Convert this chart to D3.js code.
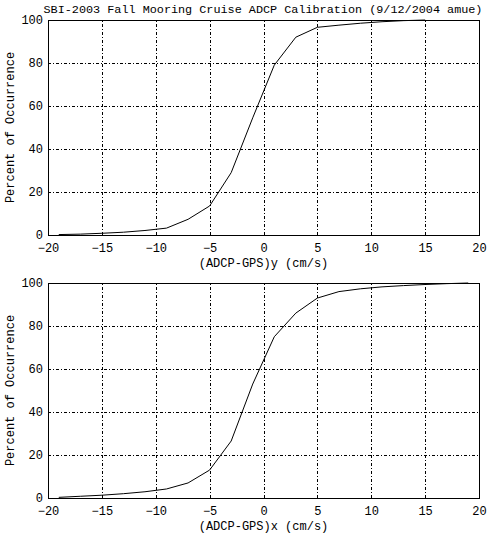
<!DOCTYPE html>
<html>
<head>
<meta charset="utf-8">
<script src="https://cdn.jsdelivr.net/npm/d3@7"></script>
<style>
  body { margin: 0; background: white; }
  text { font-family: "Liberation Mono", "DejaVu Sans Mono", monospace; fill: black; }
</style>
</head>
<body>
<div id="chart"></div>
<script>
// bin centres (cm/s) and cumulative percent of occurrence
let binsY = [-19, -17, -15, -13, -11, -9, -7, -5, -3, -1, 1, 3, 5, 7, 9, 11, 13, 15];
let cumY = [0.2, 0.4, 0.8, 1.3, 2.1, 3.2, 7.3, 13.5, 29, 54.5, 79, 92, 96.6, 97.6, 98.5, 99.2, 99.7, 100];

let binsX = [-19, -17, -15, -13, -11, -9, -7, -5, -3, -1, 1, 3, 5, 7, 9, 11, 13, 15, 17, 19];
let cumX = [0.3, 0.8, 1.3, 2.0, 2.9, 4.2, 7.0, 13, 26.5, 53, 75, 86, 93, 96, 97.3, 98.2, 98.8, 99.3, 99.7, 100];

let xTicks = [-20, -15, -10, -5, 0, 5, 10, 15, 20];
let yTicks = [0, 20, 40, 60, 80, 100];

let title = "SBI-2003 Fall Mooring Cruise ADCP Calibration (9/12/2004 amue)";
let yLabel = "Percent of Occurrence";

var W = 488, H = 536;
var left = 48, right = 479;
var width = right - left, height = 215;

var svg = d3.select("#chart")
  .append("svg")
    .attr("width", W)
    .attr("height", H);

svg.append("text")
  .attr("x", 263)
  .attr("y", 13)
  .attr("text-anchor", "middle")
  .style("font-size", "11.8px")
  .text(title);

var x = d3.scaleLinear().domain([-20, 20]).range([0, width]);
var y = d3.scaleLinear().domain([0, 100]).range([height, 0]);

function panel(top, bins, vals, xlab) {
  var g = svg.append("g")
    .attr("transform", "translate(" + left + "," + top + ")");

  // grid
  g.append("g")
    .attr("class", "grid")
    .attr("transform", "translate(0," + height + ")")
    .call(d3.axisBottom(x).tickValues(xTicks.slice(1, -1)).tickSize(-height).tickFormat(""));
  g.append("g")
    .attr("class", "grid")
    .call(d3.axisLeft(y).tickValues(yTicks.slice(1, -1)).tickSize(-width).tickFormat(""));
  g.selectAll(".grid .domain").remove();
  g.selectAll(".grid line")
    .attr("stroke", "black")
    .attr("stroke-dasharray", "3,2,1,2")
    .attr("shape-rendering", "crispEdges");

  // tick labels
  var xa = g.append("g")
    .attr("transform", "translate(0," + height + ")")
    .call(d3.axisBottom(x).tickValues(xTicks).tickSize(0).tickPadding(8.5).tickFormat(d3.format("d")));
  var ya = g.append("g")
    .call(d3.axisLeft(y).tickValues(yTicks).tickSize(0).tickPadding(5));
  xa.select(".domain").remove();
  ya.select(".domain").remove();
  g.selectAll(".tick text")
    .style("font-size", "12px")
    .style("font-family", "'Liberation Mono', monospace");

  // curve
  var data = bins.map(function(b, i) { return {v: b, p: vals[i]}; });
  g.append("path")
    .datum(data)
    .attr("fill", "none")
    .attr("stroke", "black")
    .attr("stroke-width", 1)
    .attr("d", d3.line()
      .x(function(d) { return x(d.v); })
      .y(function(d) { return y(d.p); }));

  // frame
  g.append("rect")
    .attr("width", width)
    .attr("height", height)
    .attr("fill", "none")
    .attr("stroke", "black")
    .attr("shape-rendering", "crispEdges");

  g.append("text")
    .attr("x", width / 2)
    .attr("y", height + 32)
    .attr("text-anchor", "middle")
    .style("font-size", "12px")
    .text(xlab);

  g.append("text")
    .attr("transform", "translate(" + (14 - left) + "," + (height / 2) + ") rotate(-90)")
    .attr("text-anchor", "middle")
    .style("font-size", "12px")
    .text(yLabel);
}

panel(20, binsY, cumY, "(ADCP-GPS)y (cm/s)");
panel(283, binsX, cumX, "(ADCP-GPS)x (cm/s)");
</script>
</body>
</html>
